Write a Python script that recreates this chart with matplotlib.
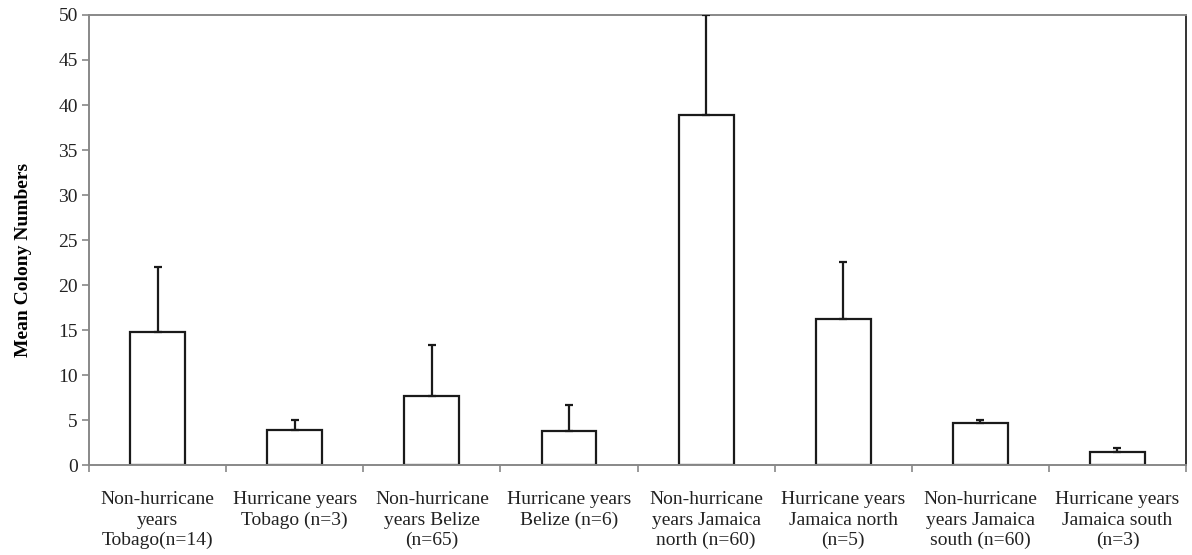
import numpy as np
import matplotlib.pyplot as plt

labels = ['Non-hurricane\nyears\nTobago(n=14)', 'Hurricane years\nTobago (n=3)',
          'Non-hurricane\nyears Belize\n(n=65)', 'Hurricane years\nBelize (n=6)',
          'Non-hurricane\nyears Jamaica\nnorth (n=60)', 'Hurricane years\nJamaica north\n(n=5)',
          'Non-hurricane\nyears Jamaica\nsouth (n=60)', 'Hurricane years\nJamaica south\n(n=3)']
means = [14.8, 3.9, 7.7, 3.8, 38.9, 16.2, 4.7, 1.5]
errors = [7.2, 1.1, 5.6, 2.9, 11.1, 6.4, 0.3, 0.4]

plt.rcParams['font.family'] = ['Liberation Serif', 'DejaVu Serif']

fig = plt.figure(figsize=(11.92, 5.55), dpi=100)
ax = fig.add_axes([0.0747, 0.162, 0.9203, 0.811])

x = np.arange(len(labels))
ax.bar(x, means, width=0.4, color='white', edgecolor='#1a1a1a', linewidth=1.6, zorder=2)
ax.errorbar(x, means, yerr=[np.zeros(len(errors)), errors], fmt='none',
            ecolor='#1a1a1a', elinewidth=1.6, capsize=3, capthick=1.6, zorder=3)

ax.set_xlim(-0.5, len(labels) - 0.5)
ax.set_ylim(0, 50)
ax.set_yticks(np.arange(0, 51, 5))
ax.set_xticks(x)
ax.set_xticklabels(labels, fontsize=14, color='#222222', linespacing=1.25)
ax.tick_params(axis='x', length=0, pad=19)
ax.set_xticks(np.arange(-0.5, len(labels), 1), minor=True)
ax.tick_params(axis='x', which='minor', length=5, color='#888888', width=1.2)
ax.tick_params(axis='y', labelsize=14, labelcolor='#222222', length=5, color='#888888', width=1.2, pad=3)

ax.set_ylabel('Mean Colony Numbers', fontsize=14, fontweight='bold')
ax.yaxis.set_label_coords(-0.052, 0.456)

for s in ['left', 'bottom', 'top']:
    ax.spines[s].set_color('#888888')
    ax.spines[s].set_linewidth(1.4)
ax.spines['right'].set_color('#333333')
ax.spines['right'].set_linewidth(1.4)

fig.savefig('out.png', dpi=100)
